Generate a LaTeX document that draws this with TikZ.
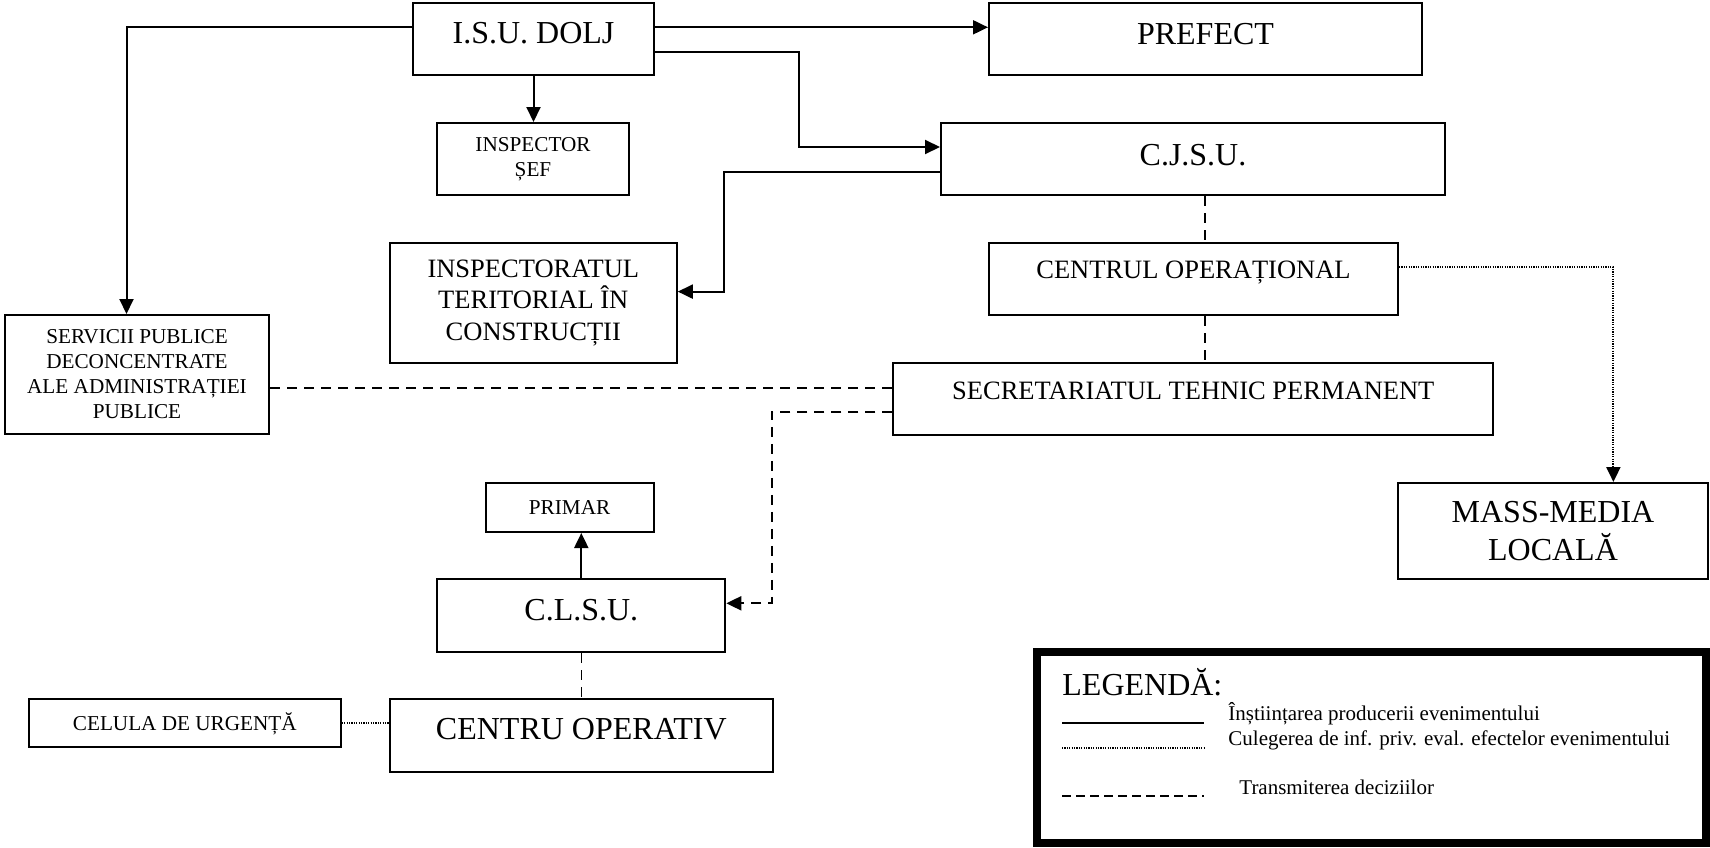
\documentclass[tikz,border=0pt]{standalone}
\usepackage{fontspec}
\setmainfont{Liberation Serif}
\usetikzlibrary{arrows.meta}
\newcommand{\fbig}{\fontsize{16}{19}\selectfont}
\newcommand{\fmid}{\fontsize{13.25}{15.75}\selectfont}
\newcommand{\fsml}{\fontsize{10.6}{12.5}\selectfont}
\newcommand{\fleg}{\fontsize{10.5}{13}\selectfont}
\tikzset{
	box/.style={draw, line width=1pt, inner sep=2pt, align=center},
	bigtxt/.style={font=\fbig, text height=10.6pt},
	midtxt/.style={font=\fmid, text height=8.8pt},
	smltxt/.style={font=\fsml, text height=7pt, text depth=0pt},
	arr/.style={-{Triangle[length=7.5pt,width=7pt]}, line width=1pt},
	decis/.style={line width=0.8pt, dash pattern=on 5pt off 3.5pt},
	culeg/.style={line width=0.6pt, dash pattern=on 0.6pt off 0.6pt}
}

\begin{document}
\begin{tikzpicture}[x=0.5pt, y=-0.5pt]
	\useasboundingbox (0,0) rectangle (1710,847);
	% casete
	\node[box, bigtxt, text depth=6pt, minimum width=120.5pt, minimum height=36pt] (isu) at (533.5,39) {I.S.U. DOLJ};
	\node[box, bigtxt, text depth=5pt, minimum width=216.5pt, minimum height=36pt] (prefect) at (1205.5,39) {PREFECT};
	\node[box, font=\fsml, minimum width=96pt, minimum height=36pt] (insp) at (533,159) {INSPECTOR\\ȘEF};
	\node[box, bigtxt, text depth=4pt, minimum width=252pt, minimum height=36pt] (cjsu) at (1193,159) {C.J.S.U.};
	\node[box, font=\fmid, minimum width=143.5pt, minimum height=60pt] (itc) at (533.3,303) {INSPECTORATUL\\TERITORIAL ÎN\\CONSTRUCȚII};
	\node[box, midtxt, text depth=9pt, minimum width=204.5pt, minimum height=36pt] (cop) at (1193.5,279) {CENTRUL OPERAȚIONAL};
	\node[box, font=\fsml, minimum width=132pt, minimum height=59.5pt] (spd) at (137,374.5) {SERVICII PUBLICE\\DECONCENTRATE\\ALE ADMINISTRAȚIEI\\PUBLICE};
	\node[box, midtxt, text depth=8.5pt, minimum width=300pt, minimum height=36pt] (stp) at (1193.3,399) {SECRETARIATUL TEHNIC PERMANENT};
	\node[box, font=\fbig, minimum width=155pt, minimum height=48pt] (media) at (1553,531) {MASS-MEDIA\\LOCALĂ};
	\node[box, smltxt, minimum width=84pt, minimum height=24.5pt] (primar) at (569.6,507.5) {PRIMAR};
	\node[box, bigtxt, text depth=6pt, minimum width=144pt, minimum height=36.5pt] (clsu) at (581.3,615.5) {C.L.S.U.};
	\node[box, bigtxt, text depth=7pt, minimum width=191.7pt, minimum height=36.5pt] (cod) at (581.3,735.5) {CENTRU OPERATIV};
	\node[box, smltxt, minimum width=156pt, minimum height=24pt] (celula) at (184.8,723) {CELULA DE URGENȚĂ};

	% legaturi
	\draw[arr] ([yshift=5.85pt]isu.west) -| ([xshift=-5.25pt]spd.north);
	\draw[arr] ([yshift=5.85pt]isu.east) -- ([yshift=5.85pt]prefect.west);
	\draw[arr] ([yshift=-6.3pt]isu.east) -- ++(71.75pt,0) |- ([yshift=6pt]cjsu.west);
	\draw[arr] (isu.south) -- (isu.south |- insp.north);
	\draw[arr] ([yshift=-6.3pt]cjsu.west) -- ++(-107.9pt,0) |- ([yshift=5.7pt]itc.east);
	\draw[decis] ([xshift=6pt]cjsu.south) -- ([xshift=5.75pt]cop.north);
	\draw[decis] ([xshift=5.75pt]cop.south) -- ([xshift=5.85pt]stp.north);
	\draw[culeg, arr] ([yshift=5.85pt]cop.east) -| ([xshift=30.2pt]media.north);
	\draw[decis] ([yshift=-6.6pt]spd.east) -- ([yshift=5.65pt]stp.west);
	\draw[decis, arr] ([yshift=-6.25pt]stp.west) -- ++(-60.3pt,0) |- ([yshift=6.1pt]clsu.east);
	\draw[arr] (clsu.north) -- (clsu.north |- primar.south);
	\draw[decis] (clsu.south) -- (clsu.south |- cod.north);
	\draw[culeg] (celula.east) -- (celula.east -| cod.west);

	% legenda
	\draw[line width=4pt] (1037,652) rectangle (1706,843);
	\node[anchor=base west, inner sep=0, font=\fbig] (legtitlu) at (1062,695) {LEGENDĂ:};
	\draw[line width=1.4pt] (1062,723) -- (1204,723);
	\draw[culeg] (1062,748) -- (1204,748);
	\draw[decis, line width=1pt, dash pattern=on 4.5pt off 2.5pt] (1062,796) -- (1204,796);
	\node[anchor=base west, inner sep=0, font=\fleg] (leg1) at (1228,720) {Înștiințarea producerii evenimentului};
	\node[anchor=base west, inner sep=0, font=\fleg] (leg2) at (1228,745) {Culegerea de inf. priv. eval. efectelor evenimentului};
	\node[anchor=base west, inner sep=0, font=\fleg] (leg3) at (1239,794) {Transmiterea deciziilor};
\end{tikzpicture}
\end{document}
